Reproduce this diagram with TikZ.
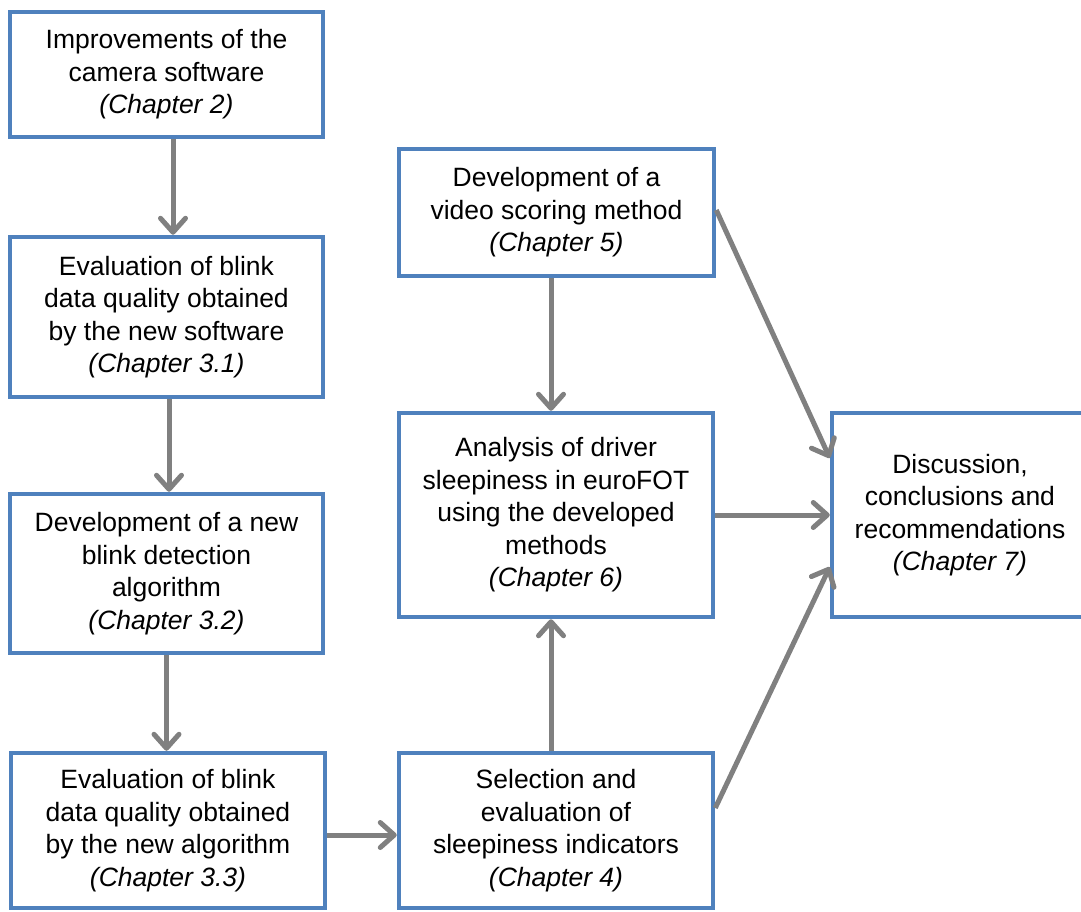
\documentclass[tikz,border=0pt]{standalone}
\usepackage{fontspec}
\setmainfont{Liberation Sans}
\usetikzlibrary{arrows.meta}
\definecolor{boxblue}{HTML}{4F81BD}
\definecolor{arrgray}{HTML}{808080}
\begin{document}
\begin{tikzpicture}[x=1pt,y=-1pt,
  box/.style={draw=boxblue, line width=4.5pt, fill=white, rectangle, inner sep=0pt,
    align=center, font=\fontsize{26.5}{32.5}\selectfont},
  arr/.style={draw=arrgray, line width=5pt, -{Straight Barb[length=14pt,width=25pt,round]}}]
\useasboundingbox (0,0) rectangle (1081,911);
\clip (0,0) rectangle (1081,911);
\node[box, minimum width=313pt, minimum height=125pt] (A) at (166.5,74.5)
  {Improvements of the\\camera software\\\textit{(Chapter 2)}};
\node[box, minimum width=313pt, minimum height=160pt] (B) at (166.5,317)
  {Evaluation of blink\\data quality obtained\\by the new software\\\textit{(Chapter 3.1)}};
\node[box, minimum width=313pt, minimum height=159pt] (C) at (166.5,573.5)
  {Development of a new\\blink detection\\algorithm\\\textit{(Chapter 3.2)}};
\node[box, minimum width=314pt, minimum height=155pt] (D) at (168,830.5)
  {Evaluation of blink\\data quality obtained\\by the new algorithm\\\textit{(Chapter 3.3)}};
\node[box, minimum width=315pt, minimum height=127pt] (E) at (556.5,212.5)
  {Development of a\\video scoring method\\\textit{(Chapter 5)}};
\node[box, minimum width=314pt, minimum height=204pt] (F) at (556,515)
  {Analysis of driver\\sleepiness in euroFOT\\using the developed\\methods\\\textit{(Chapter 6)}};
\node[box, minimum width=314pt, minimum height=155pt] (G) at (556,830.5)
  {Selection and\\evaluation of\\sleepiness indicators\\\textit{(Chapter 4)}};
\node[box, minimum width=256pt, minimum height=204pt] (H) at (960,515)
  {Discussion,\\conclusions and\\recommendations\\\textit{(Chapter 7)}};
\draw[arr] ([xshift=6.5pt]A.south) -- ([xshift=6.5pt]A.south |- B.north);
\draw[arr] ([xshift=2.5pt]B.south) -- ([xshift=2.5pt]B.south |- C.north);
\draw[arr] (C.south) -- (C.south |- D.north);
\draw[arr] ([yshift=-4.5pt]D.east) -- ([yshift=-4.5pt]D.east -| G.west);
\draw[arr] ([xshift=-5.5pt]E.south) -- ([xshift=-5.5pt]E.south |- F.north);
\draw[arr] ([xshift=-5pt]G.north) -- ([xshift=-5pt]G.north |- F.south);
\draw[arr] (F.east) -- (H.west);
\draw[arr] ([yshift=2.5pt]E.east) -- ([yshift=57pt]H.west);
\draw[arr] ([yshift=22.5pt]G.east) -- ([yshift=-52pt]H.west);
\end{tikzpicture}
\end{document}
